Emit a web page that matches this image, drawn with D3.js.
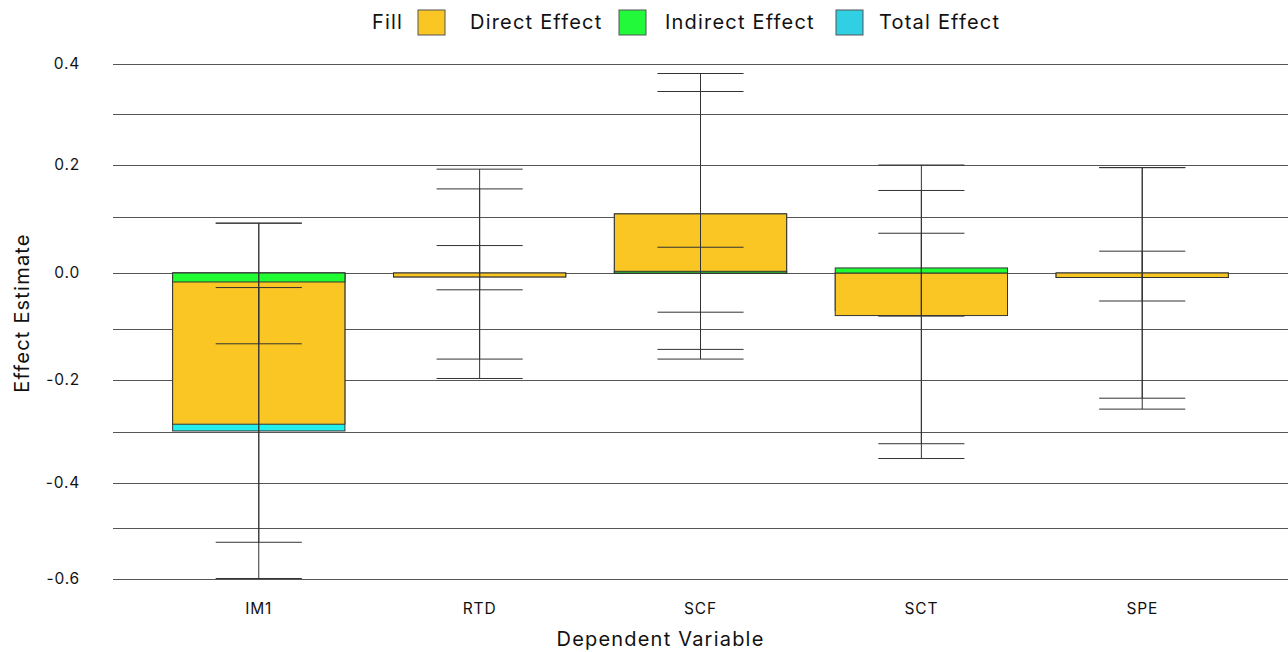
<!DOCTYPE html>
<html>
<head>
<meta charset="utf-8">
<script src="https://cdn.jsdelivr.net/npm/d3@7"></script>
<style>
  html, body { margin: 0; padding: 0; background: #fff; }
  svg { display: block; }
  text { font-family: Inter, "Open Sans", sans-serif; fill: #111; }
  .big { font-size: 20px; letter-spacing: 1.2px; }
  .tick { font-size: 15.5px; letter-spacing: 0.8px; }
</style>
</head>
<body>
<svg id="chart" width="1288" height="652"></svg>
<script>
// Dependent variables on the x axis
const categories = ["IM1", "RTD", "SCF", "SCT", "SPE"];
const effects = ["Direct Effect", "Indirect Effect", "Total Effect"];

// Point estimates per effect
const directEffect   = [-0.285, -0.007, 0.106, -0.076, -0.008];
const indirectEffect = [-0.016,  0.000, 0.003,  0.009,  0.000];
const totalEffect    = [-0.298, -0.007, 0.106, -0.067, -0.008];

// Confidence limits per effect
const directLower   = [-0.599, -0.159, -0.140, -0.323, -0.235];
const directUpper   = [ 0.089,  0.154,  0.345,  0.151,  0.195];
const indirectLower = [-0.129, -0.030, -0.070, -0.077, -0.050];
const indirectUpper = [-0.026,  0.049,  0.046,  0.071,  0.039];
const totalLower    = [-0.528, -0.197, -0.159, -0.352, -0.256];
const totalUpper    = [ 0.089,  0.192,  0.381,  0.200,  0.195];

// Axis ticks
const yTicks = [0.4, 0.3, 0.2, 0.1, 0.0, -0.1, -0.2, -0.3, -0.4, -0.5, -0.6];
const yTickLabels = ["0.4", "0.2", "0.0", "-0.2", "-0.4", "-0.6"];

const barColors = { "Direct Effect": "#f9c623", "Indirect Effect": "#21fd33", "Total Effect": "#22f0ec" };
const keyColors = { "Direct Effect": "#f9c623", "Indirect Effect": "#21f93a", "Total Effect": "#30cfe4" };

const svg = d3.select("#chart");
const panel = { left: 113, right: 1288 };

// Vertical scale, piecewise through each gridline
const y = d3.scaleLinear()
  .domain(yTicks)
  .range([64, 114, 165, 217, 273, 329, 380, 432, 483, 528, 579]);

const x = d3.scalePoint()
  .domain(categories)
  .range([panel.left, panel.right])
  .padding(0.66);
const step = x.step();
const barW = step * 0.78;
const capW = step * 0.39;

// Gridlines
svg.append("g")
  .selectAll("line")
  .data(yTicks)
  .join("line")
  .attr("x1", panel.left).attr("x2", panel.right)
  .attr("y1", d => Math.round(y(d)) + 0.5).attr("y2", d => Math.round(y(d)) + 0.5)
  .attr("stroke", "#555").attr("stroke-width", 1);

// Y tick labels
svg.append("g")
  .selectAll("text")
  .data(yTickLabels)
  .join("text")
  .attr("class", "tick")
  .attr("x", 80)
  .attr("y", d => y(+d) - 1)
  .attr("text-anchor", "end")
  .attr("dominant-baseline", "central")
  .text(d => d);

// X tick labels
svg.append("g")
  .selectAll("text")
  .data(categories)
  .join("text")
  .attr("class", "tick")
  .attr("x", d => x(d))
  .attr("y", 608)
  .attr("text-anchor", "middle")
  .attr("dominant-baseline", "central")
  .text(d => d);

// Axis titles
svg.append("text")
  .attr("class", "big")
  .attr("x", x("SCF") - 40).attr("y", 639)
  .attr("text-anchor", "middle").attr("dominant-baseline", "central")
  .text("Dependent Variable");

svg.append("text")
  .attr("class", "big")
  .attr("transform", "translate(22,313) rotate(-90)")
  .attr("text-anchor", "middle").attr("dominant-baseline", "central")
  .text("Effect Estimate");

// Bars, overlaid: total underneath, then direct, then indirect on top
const barSeries = [
  { key: "Total Effect", values: totalEffect },
  { key: "Direct Effect", values: directEffect },
  { key: "Indirect Effect", values: indirectEffect }
];
barSeries.forEach(s => {
  svg.append("g")
    .selectAll("rect")
    .data(categories.map((c, i) => ({ c, v: s.values[i] })).filter(d => d.v !== 0))
    .join("rect")
    .attr("x", d => x(d.c) - barW / 2)
    .attr("width", barW)
    .attr("y", d => Math.min(y(d.v), y(0)))
    .attr("height", d => Math.abs(y(d.v) - y(0)))
    .attr("fill", barColors[s.key])
    .attr("stroke", "#333")
    .attr("stroke-width", 1);
});

// Error bars
const ciSeries = [
  { lower: directLower, upper: directUpper },
  { lower: indirectLower, upper: indirectUpper },
  { lower: totalLower, upper: totalUpper }
];
const eg = svg.append("g").attr("stroke", "#333").attr("stroke-width", 1).attr("fill", "none");
ciSeries.forEach(s => {
  categories.forEach((c, i) => {
    const cx = x(c);
    eg.append("line").attr("x1", cx).attr("x2", cx)
      .attr("y1", y(s.lower[i])).attr("y2", y(s.upper[i]));
    [s.lower[i], s.upper[i]].forEach(v => {
      eg.append("line").attr("x1", cx - capW / 2).attr("x2", cx + capW / 2)
        .attr("y1", y(v)).attr("y2", y(v));
    });
  });
});

// Legend
const legend = svg.append("g");
legend.append("text").attr("class", "big").attr("x", 372).attr("y", 22)
  .attr("dominant-baseline", "central").text("Fill");
const keyX = [418, 619, 836];
const labelX = [470, 665, 879];
effects.forEach((e, i) => {
  legend.append("rect")
    .attr("x", keyX[i]).attr("y", 10).attr("width", 27).attr("height", 25)
    .attr("fill", keyColors[e]).attr("stroke", "#555").attr("stroke-width", 1);
  legend.append("text").attr("class", "big").attr("x", labelX[i]).attr("y", 22)
    .attr("dominant-baseline", "central").text(e);
});
</script>
</body>
</html>
